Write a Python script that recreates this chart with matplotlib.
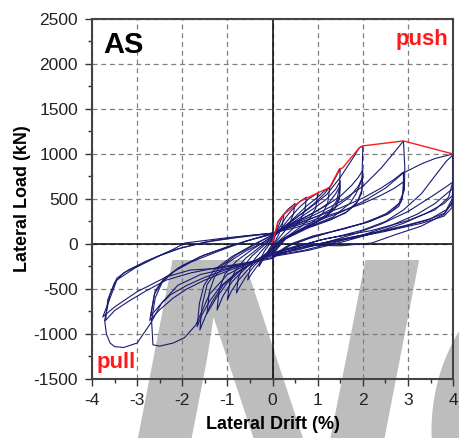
import matplotlib
matplotlib.use("Agg")
import matplotlib.pyplot as plt
from matplotlib.ticker import MultipleLocator

plt.rcParams['font.family'] = ['Liberation Sans', 'DejaVu Sans']
plt.rcParams['axes.unicode_minus'] = False

# envelope (push side), drift % vs load kN
env_drift = [0.0, 0.12, 0.23, 0.6, 0.76, 1.0, 1.23, 1.27, 1.48, 1.55, 1.92, 2.0, 2.9, 4.0]
env_load = [20, 245, 320, 470, 510, 567, 620, 633, 833, 844, 1067, 1090, 1145, 1000]

# hysteresis cycles: (drift %, load kN)
c01 = [(0, 0), (0.05, 80), (0.12, 245), (0.2, 300), (0.25, 320), (0.22, 220), (0.15, 120), (0.07, 40), (0, 0),
       (-0.08, -60), (-0.18, -150), (-0.3, -250), (-0.26, -160), (-0.18, -80), (-0.08, -10), (0, 40)]
c02 = [(0, 40), (0.1, 160), (0.23, 320), (0.35, 390), (0.5, 450), (0.46, 330), (0.38, 230), (0.25, 130), (0.1, 40),
       (0, -20), (-0.15, -120), (-0.3, -220), (-0.45, -320), (-0.55, -400), (-0.5, -270), (-0.4, -170),
       (-0.25, -80), (-0.1, 0), (0, 50)]
c03 = [(0, 50), (0.15, 180), (0.3, 300), (0.45, 390), (0.6, 470), (0.75, 520), (0.72, 380), (0.62, 270),
       (0.45, 170), (0.25, 80), (0.08, 10), (0, -40), (-0.2, -140), (-0.4, -240), (-0.6, -370), (-0.72, -470),
       (-0.8, -545), (-0.76, -380), (-0.65, -250), (-0.45, -130), (-0.2, -20), (0, 60)]
c04 = [(0, 60), (0.2, 180), (0.4, 300), (0.6, 410), (0.8, 500), (1.0, 567), (0.96, 400), (0.85, 300), (0.65, 200),
       (0.4, 110), (0.15, 30), (0, -50), (-0.25, -150), (-0.5, -260), (-0.75, -400), (-0.92, -530), (-1.0, -620),
       (-0.95, -430), (-0.82, -290), (-0.6, -160), (-0.3, -40), (0, 70)]
c05 = [(0, 70), (0.25, 180), (0.5, 300), (0.75, 420), (1.0, 520), (1.15, 590), (1.27, 633), (1.22, 450),
       (1.1, 330), (0.85, 230), (0.5, 130), (0.2, 40), (0, -60), (-0.3, -160), (-0.6, -270), (-0.9, -420),
       (-1.1, -580), (-1.23, -735), (-1.18, -500), (-1.05, -330), (-0.8, -190), (-0.45, -60), (0, 80)]
c06 = [(0, 80), (0.3, 200), (0.6, 320), (0.9, 440), (1.15, 560), (1.3, 650), (1.42, 760), (1.5, 840), (1.48, 620),
       (1.42, 480), (1.25, 350), (0.95, 240), (0.55, 140), (0.2, 40), (0, -70), (-0.3, -170), (-0.7, -290),
       (-1.0, -430), (-1.25, -600), (-1.45, -770), (-1.4, -530), (-1.28, -360), (-1.0, -210), (-0.6, -80),
       (-0.2, 20), (0, 90)]
c07 = [(0, 90), (0.3, 190), (0.6, 290), (0.9, 390), (1.2, 500), (1.4, 610), (1.5, 700), (1.48, 540), (1.4, 420),
       (1.2, 310), (0.9, 220), (0.5, 120), (0.15, 20), (0, -80), (-0.4, -190), (-0.8, -320), (-1.1, -460),
       (-1.35, -650), (-1.5, -820), (-1.61, -955), (-1.56, -680), (-1.45, -450), (-1.2, -270), (-0.8, -120),
       (-0.3, 20), (0, 100)]
c08 = [(0, 100), (0.3, 190), (0.7, 290), (1.0, 370), (1.25, 460), (1.4, 560), (1.5, 650), (1.48, 500),
       (1.38, 390), (1.15, 290), (0.8, 200), (0.4, 100), (0.1, 0), (0, -90), (-0.4, -200), (-0.8, -320),
       (-1.15, -470), (-1.4, -640), (-1.58, -800), (-1.67, -920), (-1.62, -660), (-1.52, -460), (-1.3, -290),
       (-0.9, -140), (-0.4, 0), (0, 100)]
c09 = [(0, 100), (0.4, 250), (0.8, 390), (1.2, 550), (1.5, 740), (1.75, 930), (1.92, 1067), (2.0, 1090),
       (1.98, 711), (1.85, 560), (1.72, 455), (1.34, 300), (0.95, 220), (0.61, 155), (0.25, 60), (0, -100),
       (-0.5, -210), (-1.0, -340), (-1.4, -560), (-1.7, -900), (-1.95, -1040), (-2.2, -1100), (-2.5, -1135),
       (-2.65, -1120), (-2.68, -850), (-2.6, -600), (-2.45, -430), (-2.2, -310), (-1.8, -200), (-1.2, -80),
       (-0.6, 30), (0, 110)]
c10 = [(0, 110), (0.4, 220), (0.8, 320), (1.2, 430), (1.5, 530), (1.75, 650), (1.9, 740), (2.0, 820),
       (1.98, 600), (1.88, 470), (1.65, 360), (1.3, 270), (0.8, 180), (0.3, 60), (0, -110), (-0.5, -210),
       (-1.0, -300), (-1.5, -400), (-1.9, -500), (-2.2, -600), (-2.5, -730), (-2.72, -850), (-2.62, -560),
       (-2.45, -420), (-2.1, -270), (-1.6, -140), (-1.0, -30), (-0.4, 60), (0, 110)]
c11 = [(0, 110), (0.5, 210), (1.0, 310), (1.4, 410), (1.7, 520), (1.9, 640), (2.0, 750), (1.97, 560),
       (1.85, 440), (1.6, 340), (1.2, 260), (0.7, 170), (0.25, 50), (0, -120), (-0.5, -200), (-1.0, -280),
       (-1.5, -370), (-1.9, -460), (-2.25, -560), (-2.5, -680), (-2.7, -800), (-2.6, -520), (-2.4, -380),
       (-2.0, -240), (-1.5, -120), (-0.9, -20), (-0.4, 60), (0, 120)]
c12 = [(0, 120), (0.5, 230), (1.0, 340), (1.5, 470), (2.0, 640), (2.4, 840), (2.7, 1020), (2.9, 1145),
       (2.93, 850), (2.92, 600), (2.8, 450), (2.5, 330), (2.0, 230), (1.4, 150), (0.8, 60), (0.3, -30), (0, -130),
       (-0.5, -210), (-1.0, -270), (-1.6, -340), (-2.1, -460), (-2.45, -650), (-2.7, -880), (-3.0, -1100),
       (-3.3, -1150), (-3.5, -1140), (-3.6, -1100), (-3.68, -1000), (-3.72, -850), (-3.6, -560), (-3.45, -380),
       (-3.2, -290), (-2.8, -190), (-2.2, -67), (-1.5, 20), (-0.8, 70), (0, 120)]
c13 = [(0, 120), (0.5, 220), (1.0, 310), (1.5, 400), (2.0, 510), (2.4, 620), (2.7, 720), (2.9, 800), (2.9, 600),
       (2.85, 470), (2.65, 370), (2.2, 260), (1.6, 170), (0.9, 90), (0.4, 0), (0, -150), (-0.6, -210),
       (-1.2, -260), (-1.8, -320), (-2.35, -400), (-2.8, -520), (-3.2, -640), (-3.5, -740), (-3.7, -850),
       (-3.65, -620), (-3.5, -430), (-3.3, -320), (-3.0, -250), (-2.5, -130), (-2.0, -40), (-1.3, 40),
       (-0.6, 90), (0, 120)]
c14 = [(0, 120), (0.5, 200), (1.0, 280), (1.5, 360), (2.0, 450), (2.4, 540), (2.7, 620), (2.9, 690),
       (2.88, 520), (2.8, 420), (2.55, 330), (2.1, 240), (1.5, 160), (0.9, 80), (0.4, -10), (0, -160),
       (-0.6, -220), (-1.2, -270), (-1.83, -290), (-2.35, -365), (-3.0, -530), (-3.5, -700), (-3.76, -810),
       (-3.6, -600), (-3.45, -400), (-3.05, -267), (-2.6, -150), (-2.23, -67), (-1.94, 11), (-1.0, 70), (0, 120)]
c15 = [(0, 120), (0.5, 180), (1.0, 260), (1.5, 350), (2.0, 470), (2.5, 620), (2.9, 790), (3.3, 890), (3.6, 950),
       (4.0, 1000), (4.02, 720), (4.0, 480), (3.8, 330), (3.3, 200), (2.7, 100), (2.2, 11), (1.5, -20),
       (0.6, -11), (0, -100)]
c16 = [(0, -100), (0.5, -40), (1.05, 44), (1.5, 90), (2.0, 155), (2.5, 250), (2.9, 378), (3.3, 560), (3.65, 790),
       (3.85, 920), (4.0, 990), (4.0, 700), (3.9, 520), (3.6, 380), (3.0, 260), (2.2, 150), (1.2, 60), (0.5, -30),
       (0, -120)]
c17 = [(0, -120), (0.6, -60), (1.2, 20), (1.8, 110), (2.4, 220), (3.0, 360), (3.5, 520), (3.8, 620), (4.0, 690),
       (3.98, 500), (3.85, 380), (3.5, 280), (2.9, 200), (2.2, 120), (1.4, 40), (0.6, -40), (0, -130)]
c18 = [(0, -130), (0.7, -70), (1.4, 20), (2.0, 100), (2.6, 200), (3.2, 330), (3.6, 450), (4.0, 620),
       (3.98, 450), (3.8, 340), (3.4, 260), (2.8, 180), (2.0, 100), (1.2, 20), (0.5, -50), (0, -140)]
c19 = [(0, -140), (0.8, -70), (1.6, 30), (2.3, 130), (2.9, 230), (3.4, 340), (3.8, 450), (4.0, 545),
       (3.97, 400), (3.8, 310), (3.3, 230), (2.5, 140), (1.6, 50), (0.8, -30), (0, -120)]
cycles = [c01, c02, c03, c04, c05, c06, c07, c08, c09, c10, c11, c12, c13, c14, c15, c16, c17, c18, c19]

fig = plt.figure(figsize=(4.6, 4.38), dpi=100)
ax = fig.add_axes([0.2, 0.1347, 0.785, 0.822])
ax.set_facecolor('none')

# watermark behind the axes
fig.text(0.237, -0.253, 'NO', fontsize=302, fontweight='bold', style='italic',
         color='#bdbdbd', zorder=-1, ha='left', va='baseline')

for c in cycles:
    xs = [p[0] for p in c]
    ys = [p[1] for p in c]
    ax.plot(xs, ys, color='#1a1a72', lw=0.8, zorder=3)

ax.plot(env_drift, env_load, color='#ff1a1a', lw=1.0, zorder=4)

ax.axhline(0, color='black', lw=1.1, zorder=2)
ax.axvline(0, color='black', lw=1.1, zorder=2)

ax.set_xlim(-4, 4)
ax.set_ylim(-1500, 2500)
ax.xaxis.set_major_locator(MultipleLocator(1))
ax.xaxis.set_minor_locator(MultipleLocator(0.5))
ax.yaxis.set_major_locator(MultipleLocator(500))
ax.yaxis.set_minor_locator(MultipleLocator(250))
ax.grid(True, which='major', color='#808080', ls=(0, (4, 3)), lw=0.9)
ax.tick_params(which='major', direction='out', length=5, width=1, labelsize=12.5, colors='#333333',
               labelcolor='#222222', top=False, right=False, pad=5)
ax.tick_params(which='minor', direction='out', length=3, width=1, colors='#333333')
for s in ax.spines.values():
    s.set_color('#444444')
    s.set_linewidth(1.5)

ax.set_xlabel('Lateral Drift (%)', fontsize=13, fontweight='bold', labelpad=6)
ax.set_ylabel('Lateral Load (kN)', fontsize=13, fontweight='bold', labelpad=2)

ax.text(0.03, 0.906, 'AS', transform=ax.transAxes, fontsize=21, fontweight='bold', ha='left', va='baseline')
ax.text(0.986, 0.928, 'push', transform=ax.transAxes, fontsize=16, fontweight='bold', color='#ff1a1a',
        ha='right', va='baseline')
ax.text(0.014, 0.031, 'pull', transform=ax.transAxes, fontsize=16, fontweight='bold', color='#ff1a1a',
        ha='left', va='baseline')

fig.savefig('out.png', dpi=100)
